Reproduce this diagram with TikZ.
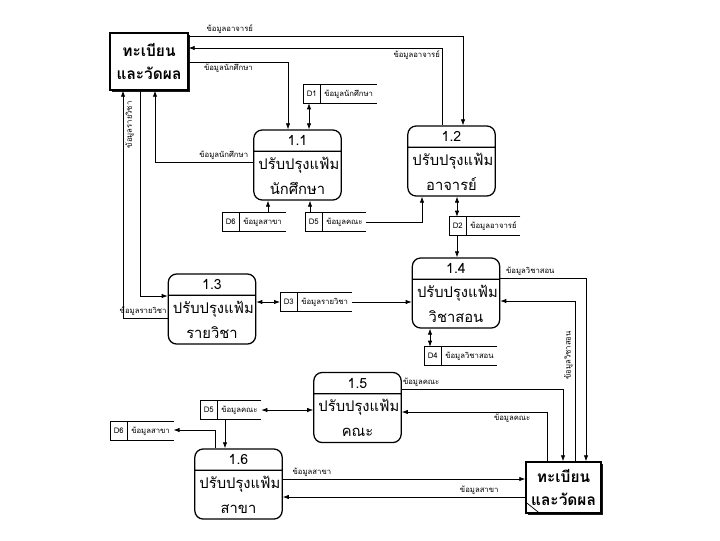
\documentclass[tikz,border=0pt]{standalone}
\usepackage{fontspec}
\setmainfont{Loma}[Script=Thai]
\usetikzlibrary{arrows.meta,shapes.multipart,shadows,calc}
\newcommand\pnum[1]{{\fontsize{10}{11}\selectfont #1}}

\begin{document}
\begin{tikzpicture}[x=0.025cm, y=-0.025cm,
  proc/.style={rectangle split, rectangle split parts=2, draw, line width=0.9pt,
    rounded corners=6pt, text width=1.95cm, align=center, inner ysep=3.5pt,
    font=\fontsize{10.5}{18}\selectfont},
  ent/.style={draw, line width=0.9pt, fill=white, minimum width=1.95cm, minimum height=1.43cm,
    align=center, font=\bfseries\fontsize{11}{17}\selectfont,
    drop shadow={shadow xshift=1.6pt, shadow yshift=-1.6pt, fill=black, opacity=0.9}},
  store/.style={rectangle split, rectangle split horizontal, rectangle split parts=2, anchor=west,
    inner xsep=2.5pt, inner ysep=1pt, minimum height=0.45cm, font=\fontsize{5.5}{6}\selectfont},
  lbl/.style={font=\fontsize{5.5}{6}\selectfont, inner sep=1.5pt},
  arr/.style={-{Latex[length=1.5mm,width=1.1mm]}, line width=0.5pt},
  darr/.style={{Latex[length=1.5mm,width=1.1mm]}-{Latex[length=1.5mm,width=1.1mm]}, line width=0.5pt}]
\useasboundingbox (0,0) rectangle (720,540);

% external entities
\node[ent] (e1) at (149,61.5) {ทะเบียน\\และวัดผล};
\node[ent, minimum width=1.88cm, minimum height=1.28cm] (e2) at (563.5,487.5) {ทะเบียน\\และวัดผล};
\draw[line width=0.5pt] ($(e2.south west)+(0,-12)$) -- ($(e2.south west)+(15,0)$);

% processes
\node[proc] (p11) at (297.5,165) {\pnum{1.1}\nodepart{two}ปรับปรุงแฟ้ม\\นักศึกษา};
\node[proc] (p12) at (451.5,161) {\pnum{1.2}\nodepart{two}ปรับปรุงแฟ้ม\\อาจารย์};
\node[proc] (p13) at (212,309) {\pnum{1.3}\nodepart{two}ปรับปรุงแฟ้ม\\รายวิชา};
\node[proc] (p14) at (456,293) {\pnum{1.4}\nodepart{two}ปรับปรุงแฟ้ม\\วิชาสอน};
\node[proc] (p15) at (357.5,407.5) {\pnum{1.5}\nodepart{two}ปรับปรุงแฟ้ม\\คณะ};
\node[proc] (p16) at (238.5,484) {\pnum{1.6}\nodepart{two}ปรับปรุงแฟ้ม\\สาขา};

% data stores
\node[store] (d1) at (303,94) {D1\nodepart{two}ข้อมูลนักศึกษา\quad};
\node[store] (d6a) at (222,222) {D6\nodepart{two}ข้อมูลสาขา\qquad};
\node[store] (d5a) at (305,222) {D5\nodepart{two}ข้อมูลคณะ\qquad};
\node[store] (d2) at (449,226) {D2\nodepart{two}ข้อมูลอาจารย์\quad};
\node[store] (d3) at (280,302) {D3\nodepart{two}ข้อมูลรายวิชา\quad};
\node[store] (d4) at (424,356) {D4\nodepart{two}ข้อมูลวิชาสอน\quad};
\node[store] (d5b) at (200,410) {D5\nodepart{two}ข้อมูลคณะ\qquad};
\node[store] (d6b) at (110,431) {D6\nodepart{two}ข้อมูลสาขา\qquad};
\foreach \s in {d1,d6a,d5a,d2,d3,d4,d5b,d6b}
  \draw[line width=0.5pt] (\s.north east) -- (\s.north west) -- (\s.south west) -- (\s.south east)
    (\s.one split north) -- (\s.one split south);

% bend points
\coordinate (c1) at (463,36);
\coordinate (c2) at (442,48);
\coordinate (c3) at (288,62);
\coordinate (c4) at (309,0);
\coordinate (c5) at (155,162);
\coordinate (c6) at (123,318);
\coordinate (c7) at (140,296);
\coordinate (c8) at (268,0);
\coordinate (c9) at (310,0);
\coordinate (c10) at (422,0);
\coordinate (c11) at (457,0);
\coordinate (c12) at (430,0);
\coordinate (c13) at (586,278);
\coordinate (c14) at (575,301);
\coordinate (c15) at (225,0);
\coordinate (c16) at (215,430);
\coordinate (c17) at (563,389);
\coordinate (c18) at (547,412);
\coordinate (c19) at (0,479);
\coordinate (c20) at (0,497);

% flows
\draw[arr] (e1.east|-c1) -- node[lbl, above, pos=0.15] {ข้อมูลอาจารย์} (c1) -- (p12.north-|c1);
\draw[arr] (p12.north-|c2) -- (c2) -- node[lbl, below, pos=0.1] {ข้อมูลอาจารย์} (e1.east|-c2);
\draw[arr] (e1.east|-c3) -- node[lbl, below, pos=0.4] {ข้อมูลนักศึกษา} (c3) -- (p11.north-|c3);
\draw[darr] (d1.south-|c4) -- (p11.north-|c4);
\draw[arr] (p11.west|-c5) -- node[lbl, above, pos=0.3] {ข้อมูลนักศึกษา} (c5) -- (e1.south-|c5);
\draw[arr] (p13.west|-c6) -- node[lbl, above, pos=0.55] {ข้อมูลรายวิชา} (c6)
  -- node[lbl, sloped, below, pos=0.85] {ข้อมูลรายวิชา} (e1.south-|c6);
\draw[arr] (e1.south-|c7) -- (c7) -- (p13.west|-c7);
\draw[arr] (d6a.north-|c8) -- (p11.south-|c8);
\draw[arr] (d5a.north-|c9) -- (p11.south-|c9);
\draw[arr] (d5a.east) -| (p12.south-|c10);
\draw[darr] (p12.south-|c11) -- (d2.north-|c11);
\draw[arr] (d2.south-|c11) -- (p14.north-|c11);
\draw[darr] (p13.east|-d3.west) -- (d3.west);
\draw[arr] (d3.east) -- (p14.west|-d3.east);
\draw[darr] (p14.south-|c12) -- (d4.north-|c12);
\draw[arr] (p14.east|-c13) -- node[lbl, above, pos=0.35] {ข้อมูลวิชาสอน} (c13) -- (e2.north-|c13);
\draw[arr] (e2.north-|c14) -- node[lbl, sloped, above, pos=0.66] {ข้อมูลวิชาสอน} (c14) -- (p14.east|-c14);
\draw[darr] (d5b.east) -- (p15.west|-d5b.east);
\draw[arr] (d5b.south-|c15) -- (p16.north-|c15);
\draw[arr] (p16.north-|c16) -- (c16) -- (d6b.east|-c16);
\draw[arr] (p15.east|-c17) -- node[lbl, above, pos=0.12] {ข้อมูลคณะ} (c17) -- (e2.north-|c17);
\draw[arr] (e2.north-|c18) -- (c18) -- node[lbl, below, pos=0.24] {ข้อมูลคณะ} (p15.east|-c18);
\draw[arr] (p16.east|-c19) -- node[lbl, above, pos=0.12] {ข้อมูลสาขา} (e2.west|-c19);
\draw[arr] (e2.west|-c20) -- node[lbl, above, pos=0.19] {ข้อมูลสาขา} (p16.east|-c20);
\end{tikzpicture}
\end{document}
